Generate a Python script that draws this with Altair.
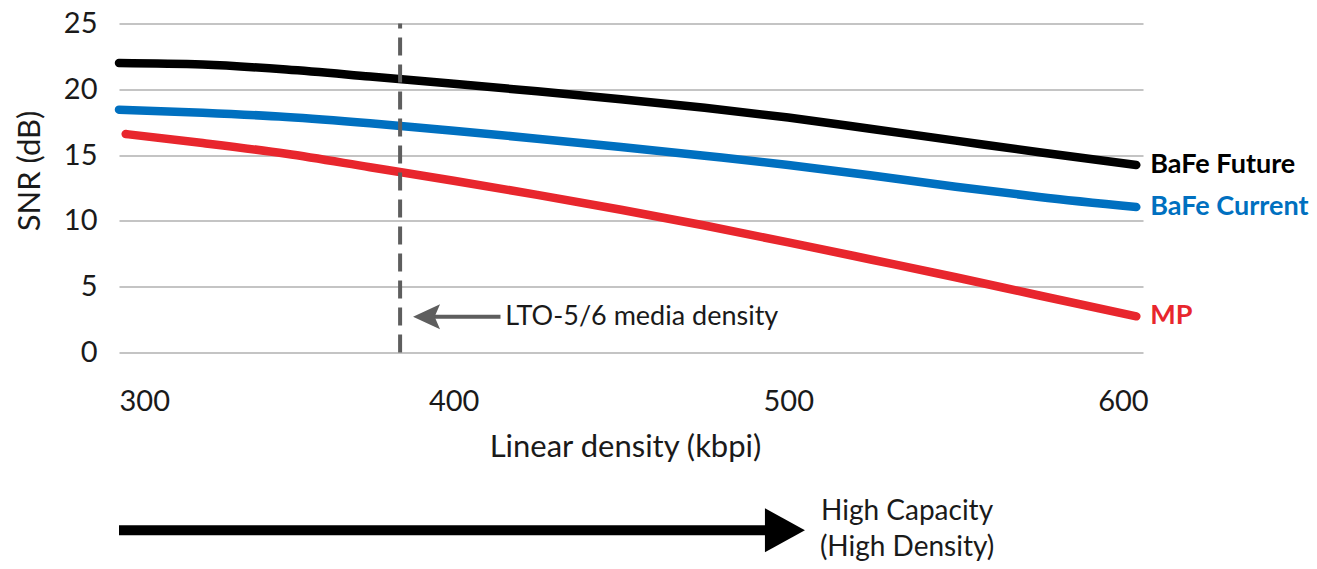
import altair as alt
import pandas as pd

# ---- data ----
density = [300, 325, 350, 375, 400, 425, 450, 475, 500, 525, 550, 575, 604]
bafe_future = [22.0, 21.88, 21.5, 20.97, 20.42, 19.85, 19.25, 18.6, 17.85, 16.98, 16.1, 15.22, 14.25]
bafe_current = [18.45, 18.22, 17.9, 17.42, 16.85, 16.25, 15.62, 14.95, 14.25, 13.45, 12.6, 11.82, 11.05]
mp_density = [302, 325, 350, 375, 400, 425, 450, 475, 500, 525, 550, 575, 604]
mp = [16.6, 15.92, 15.1, 14.08, 13.05, 11.98, 10.85, 9.65, 8.37, 7.05, 5.72, 4.33, 2.75]

series_names = ["BaFe Future", "BaFe Current", "MP"]
series_colors = ["#000000", "#0070C0", "#E8262D"]
x_ticks = [300, 400, 500, 600]
y_ticks = [0, 5, 10, 15, 20, 25]
lto_density = 384
lto_label = "LTO-5/6 media density"
capacity_lines = ["High Capacity", "(High Density)"]

FONT = "Lato"

rows = []
for name, xs, ys in [
    (series_names[0], density, bafe_future),
    (series_names[1], density, bafe_current),
    (series_names[2], mp_density, mp),
]:
    for i, (xv, yv) in enumerate(zip(xs, ys)):
        rows.append({"series": name, "x": xv, "y": yv, "i": i})
df = pd.DataFrame(rows)
ends = df.loc[df.groupby("series")["i"].idxmax()].reset_index(drop=True)

xscale = alt.Scale(domain=[300, 606], nice=False, zero=False)
yscale = alt.Scale(domain=[0, 25], nice=False)
cscale = alt.Scale(domain=series_names, range=series_colors)

base = alt.Chart(df)

lines = base.mark_line(strokeWidth=8.5, strokeCap="round", strokeJoin="round",
                       interpolate="monotone").encode(
    x=alt.X("x:Q", scale=xscale,
            axis=alt.Axis(values=x_ticks, title="Linear density (kbpi)", grid=False,
                          domain=False, ticks=False, labelFlush=True,
                          labelFontSize=29, labelPadding=35, labelColor="#1a1a1a",
                          titleFontSize=31, titleFontWeight="normal", titleColor="#1a1a1a",
                          titleX=506, titleY=95, titleBaseline="middle", titleAlign="center")),
    y=alt.Y("y:Q", scale=yscale,
            axis=alt.Axis(values=y_ticks, title="SNR (dB)", grid=True, gridColor="#C4C4C4",
                          gridWidth=2, domain=False, ticks=False,
                          labelFontSize=29, labelPadding=22, labelColor="#1a1a1a",
                          titleFontSize=31, titleFontWeight="normal", titleColor="#1a1a1a",
                          titleX=-89, titleY=147, titleBaseline="middle", titleAlign="center",
                          titleAngle=-90)),
    color=alt.Color("series:N", scale=cscale, legend=None),
    order="i:Q",
)

end_labels = alt.Chart(ends).mark_text(align="left", baseline="middle", dx=14,
                                        fontSize=27, fontWeight="bold", font=FONT).encode(
    x=alt.X("x:Q", scale=xscale),
    y=alt.Y("y:Q", scale=yscale),
    text="series:N",
    color=alt.Color("series:N", scale=cscale, legend=None),
)

vline_df = pd.DataFrame({"x": [lto_density], "y": [y_ticks[0]], "y2": [y_ticks[-1]]})
vline = alt.Chart(vline_df).mark_rule(color="#5E5E5E", strokeWidth=4,
                                      strokeDash=[18, 9]).encode(
    x=alt.X("x:Q", scale=xscale), y=alt.Y("y:Q", scale=yscale), y2="y2:Q")

# LTO annotation arrow + text (data units)
lto_arrow_df = pd.DataFrame({"x": [393.5], "x2": [414.0], "y": [2.72]})
lto_shaft = alt.Chart(lto_arrow_df).mark_rule(color="#5E5E5E", strokeWidth=4).encode(
    x=alt.X("x:Q", scale=xscale), x2="x2:Q", y=alt.Y("y:Q", scale=yscale))
lto_head_df = pd.DataFrame({"x": [391.9], "y": [2.72]})
lto_head = alt.Chart(lto_head_df).mark_point(
    shape="M1,-0.93L-1,0L1,0.93L0.6,0Z", size=729, filled=True, opacity=1,
    color="#5E5E5E", strokeWidth=0).encode(
    x=alt.X("x:Q", scale=xscale), y=alt.Y("y:Q", scale=yscale))
lto_text_df = pd.DataFrame({"x": [415.4], "y": [2.72], "t": [lto_label]})
lto_text = alt.Chart(lto_text_df).mark_text(align="left", baseline="middle", fontSize=27,
                                            font=FONT, color="#1a1a1a").encode(
    x=alt.X("x:Q", scale=xscale), y=alt.Y("y:Q", scale=yscale), text="t:N")

# Bottom "High Capacity" arrow
cap_shaft_df = pd.DataFrame({"x": [300], "x2": [497], "y": [-13.5]})
cap_shaft = alt.Chart(cap_shaft_df).mark_rule(color="#000000", strokeWidth=10).encode(
    x=alt.X("x:Q", scale=xscale), x2="x2:Q", y=alt.Y("y:Q", scale=yscale))
cap_head_df = pd.DataFrame({"x": [499], "y": [-13.5]})
cap_head = alt.Chart(cap_head_df).mark_point(
    shape="M-1,-1.1L1,0L-1,1.1Z", size=1600, filled=True, opacity=1,
    color="#000000", strokeWidth=0).encode(
    x=alt.X("x:Q", scale=xscale), y=alt.Y("y:Q", scale=yscale))
cap_text_df = pd.DataFrame({"x": [535.5, 535.5], "y": [-12.1, -14.85], "t": capacity_lines})
cap_text = alt.Chart(cap_text_df).mark_text(align="center", baseline="middle", fontSize=28,
                                            font=FONT, color="#1a1a1a").encode(
    x=alt.X("x:Q", scale=xscale), y=alt.Y("y:Q", scale=yscale), text="t:N")

chart = alt.layer(
    lines, end_labels, vline, lto_shaft, lto_head, lto_text, cap_shaft, cap_head, cap_text
).properties(
    width=1024, height=329,
    padding={"left": 111, "top": 15.5, "right": 166, "bottom": 208.5},
    autosize=alt.AutoSizeParams(type="none"),
    background="white",
).configure_view(stroke=None).configure_axis(labelFont=FONT, titleFont=FONT).configure_text(font=FONT)

chart.save("out.html", embed_options={"renderer": "svg", "actions": False})
